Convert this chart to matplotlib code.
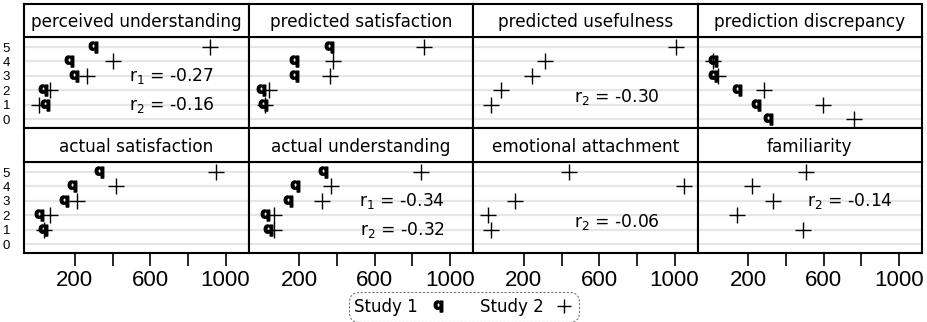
import matplotlib.pyplot as plt
from matplotlib.lines import Line2D

panels = ['perceived understanding', 'predicted satisfaction', 'predicted usefulness',
          'prediction discrepancy', 'actual satisfaction', 'actual understanding',
          'emotional attachment', 'familiarity']

# study 1 ("q"), None where the study did not measure it
study1_x = [[295, 168, 195, 30, 41],
            [359, 174, 174, -1, 9],
            None,
            [12, 14, 139, 240, 303],
            [327, 184, 142, 9, 31],
            [327, 179, 142, 15, 31],
            None,
            None]
study1_y = [[5, 4, 3, 2, 1],
            [5, 4, 3, 2, 1],
            None,
            [4, 3, 2, 1, 0],
            [5, 4, 3, 2, 1],
            [5, 4, 3, 2, 1],
            None,
            None]

# study 2 ("+")
study2_x = [[920, 401, 264, 68, 9],
            [862, 380, 364, 41, 15],
            [1010, 311, 242, 78, 25],
            [12, 39, 282, 595, 759],
            [947, 417, 211, 68, 36],
            [846, 370, 322, 68, 68],
            [438, 1048, 152, 9, 25],
            [505, 219, 330, 139, 489]]
study2_y = [[5, 4, 3, 2, 1],
            [5, 4, 3, 2, 1],
            [5, 4, 3, 2, 1],
            [4, 3, 2, 1, 0],
            [5, 4, 3, 2, 1],
            [5, 4, 3, 2, 1],
            [5, 4, 3, 2, 1],
            [5, 4, 3, 2, 1]]

# correlation labels: panel index, text, x, y
r_panel = [0, 0, 2, 5, 5, 6, 7]
r_text = ['r$_1$ = -0.27', 'r$_2$ = -0.16', 'r$_2$ = -0.30', 'r$_1$ = -0.34',
          'r$_2$ = -0.32', 'r$_2$ = -0.06', 'r$_2$ = -0.14']
r_x = [714, 714, 692, 746, 746, 692, 738]
r_y = [3, 1, 1.5, 3, 1, 1.5, 3]

x_ticks = [200, 400, 600, 800, 1000]
x_labels = ['200', '', '600', '', '1000']
y_ticks = [0, 1, 2, 3, 4, 5]

W, H = 927, 322
fig = plt.figure(figsize=(W / 100, H / 100), dpi=100)

q_marker = r'$\mathbf{q}$'
left0, pw = 24, 224.5
rows = [(4, 37, 128), (128, 162, 253)]  # strip top, panel top, panel bottom (px)

for i, name in enumerate(panels):
    r, c = divmod(i, 4)
    st, pt, pb = rows[r]
    x0 = left0 + c * pw
    ax = fig.add_axes([x0 / W, (H - pb) / H, pw / W, (pb - pt) / H])
    sx = fig.add_axes([x0 / W, (H - pt) / H, pw / W, (pt - st) / H])

    # strip
    sx.set_xticks([])
    sx.set_yticks([])
    for s in sx.spines.values():
        s.set_linewidth(1.5)
    sx.text(0.5, 0.45, name, ha='center', va='center', fontsize=12.2,
            family='DejaVu Sans', transform=sx.transAxes)

    for yv in y_ticks:
        ax.axhline(yv, color='#e6e6e6', lw=1.6, zorder=0)

    ax.plot(study2_x[i], study2_y[i], ls='none', marker='+', ms=11, mew=1.0,
            color='black', zorder=2)
    if study1_x[i] is not None:
        ax.plot(study1_x[i], study1_y[i], ls='none', marker=q_marker, ms=8,
                color='black', zorder=3)

    for p, t, tx, ty in zip(r_panel, r_text, r_x, r_y):
        if p == i:
            ax.text(tx, ty, t, ha='center', va='center', fontsize=12.3,
                    family='DejaVu Sans')

    ax.set_xlim(-70, 1122)
    ax.set_ylim(-0.62, 5.7)
    for s in ax.spines.values():
        s.set_linewidth(1.5)

    ax.set_yticks(y_ticks)
    if c == 0:
        ax.tick_params(axis='y', length=0, pad=10, labelsize=9.5)
        for lab in ax.get_yticklabels():
            lab.set_family('Liberation Sans')
    else:
        ax.tick_params(axis='y', length=0, labelleft=False)

    ax.set_xticks(x_ticks)
    if r == 1:
        ax.set_xticklabels(x_labels)
        ax.tick_params(axis='x', length=9, width=1.2, pad=3, labelsize=16)
        for lab in ax.get_xticklabels():
            lab.set_family('Liberation Sans')
    else:
        ax.tick_params(axis='x', length=0, labelbottom=False)

handles = [Line2D([], [], ls='none', marker=q_marker, ms=8, color='black'),
           Line2D([], [], ls='none', marker='+', ms=10, mew=1.0, color='black')]
leg = fig.legend(handles, ['Study 1', 'Study 2'], loc='center',
                 bbox_to_anchor=(464 / W, (H - 307) / H), ncol=2, markerfirst=False,
                 fancybox=True, frameon=True, handlelength=1.2,
                 handletextpad=0.6, columnspacing=1.9, borderpad=0.25,
                 prop={'family': 'DejaVu Sans', 'size': 12})
frame = leg.get_frame()
frame.set_edgecolor('#555555')
frame.set_linestyle((0, (2, 1.5)))
frame.set_linewidth(0.8)
frame.set_boxstyle('round,pad=0.1,rounding_size=0.6')

fig.savefig('out.png', dpi=100)
